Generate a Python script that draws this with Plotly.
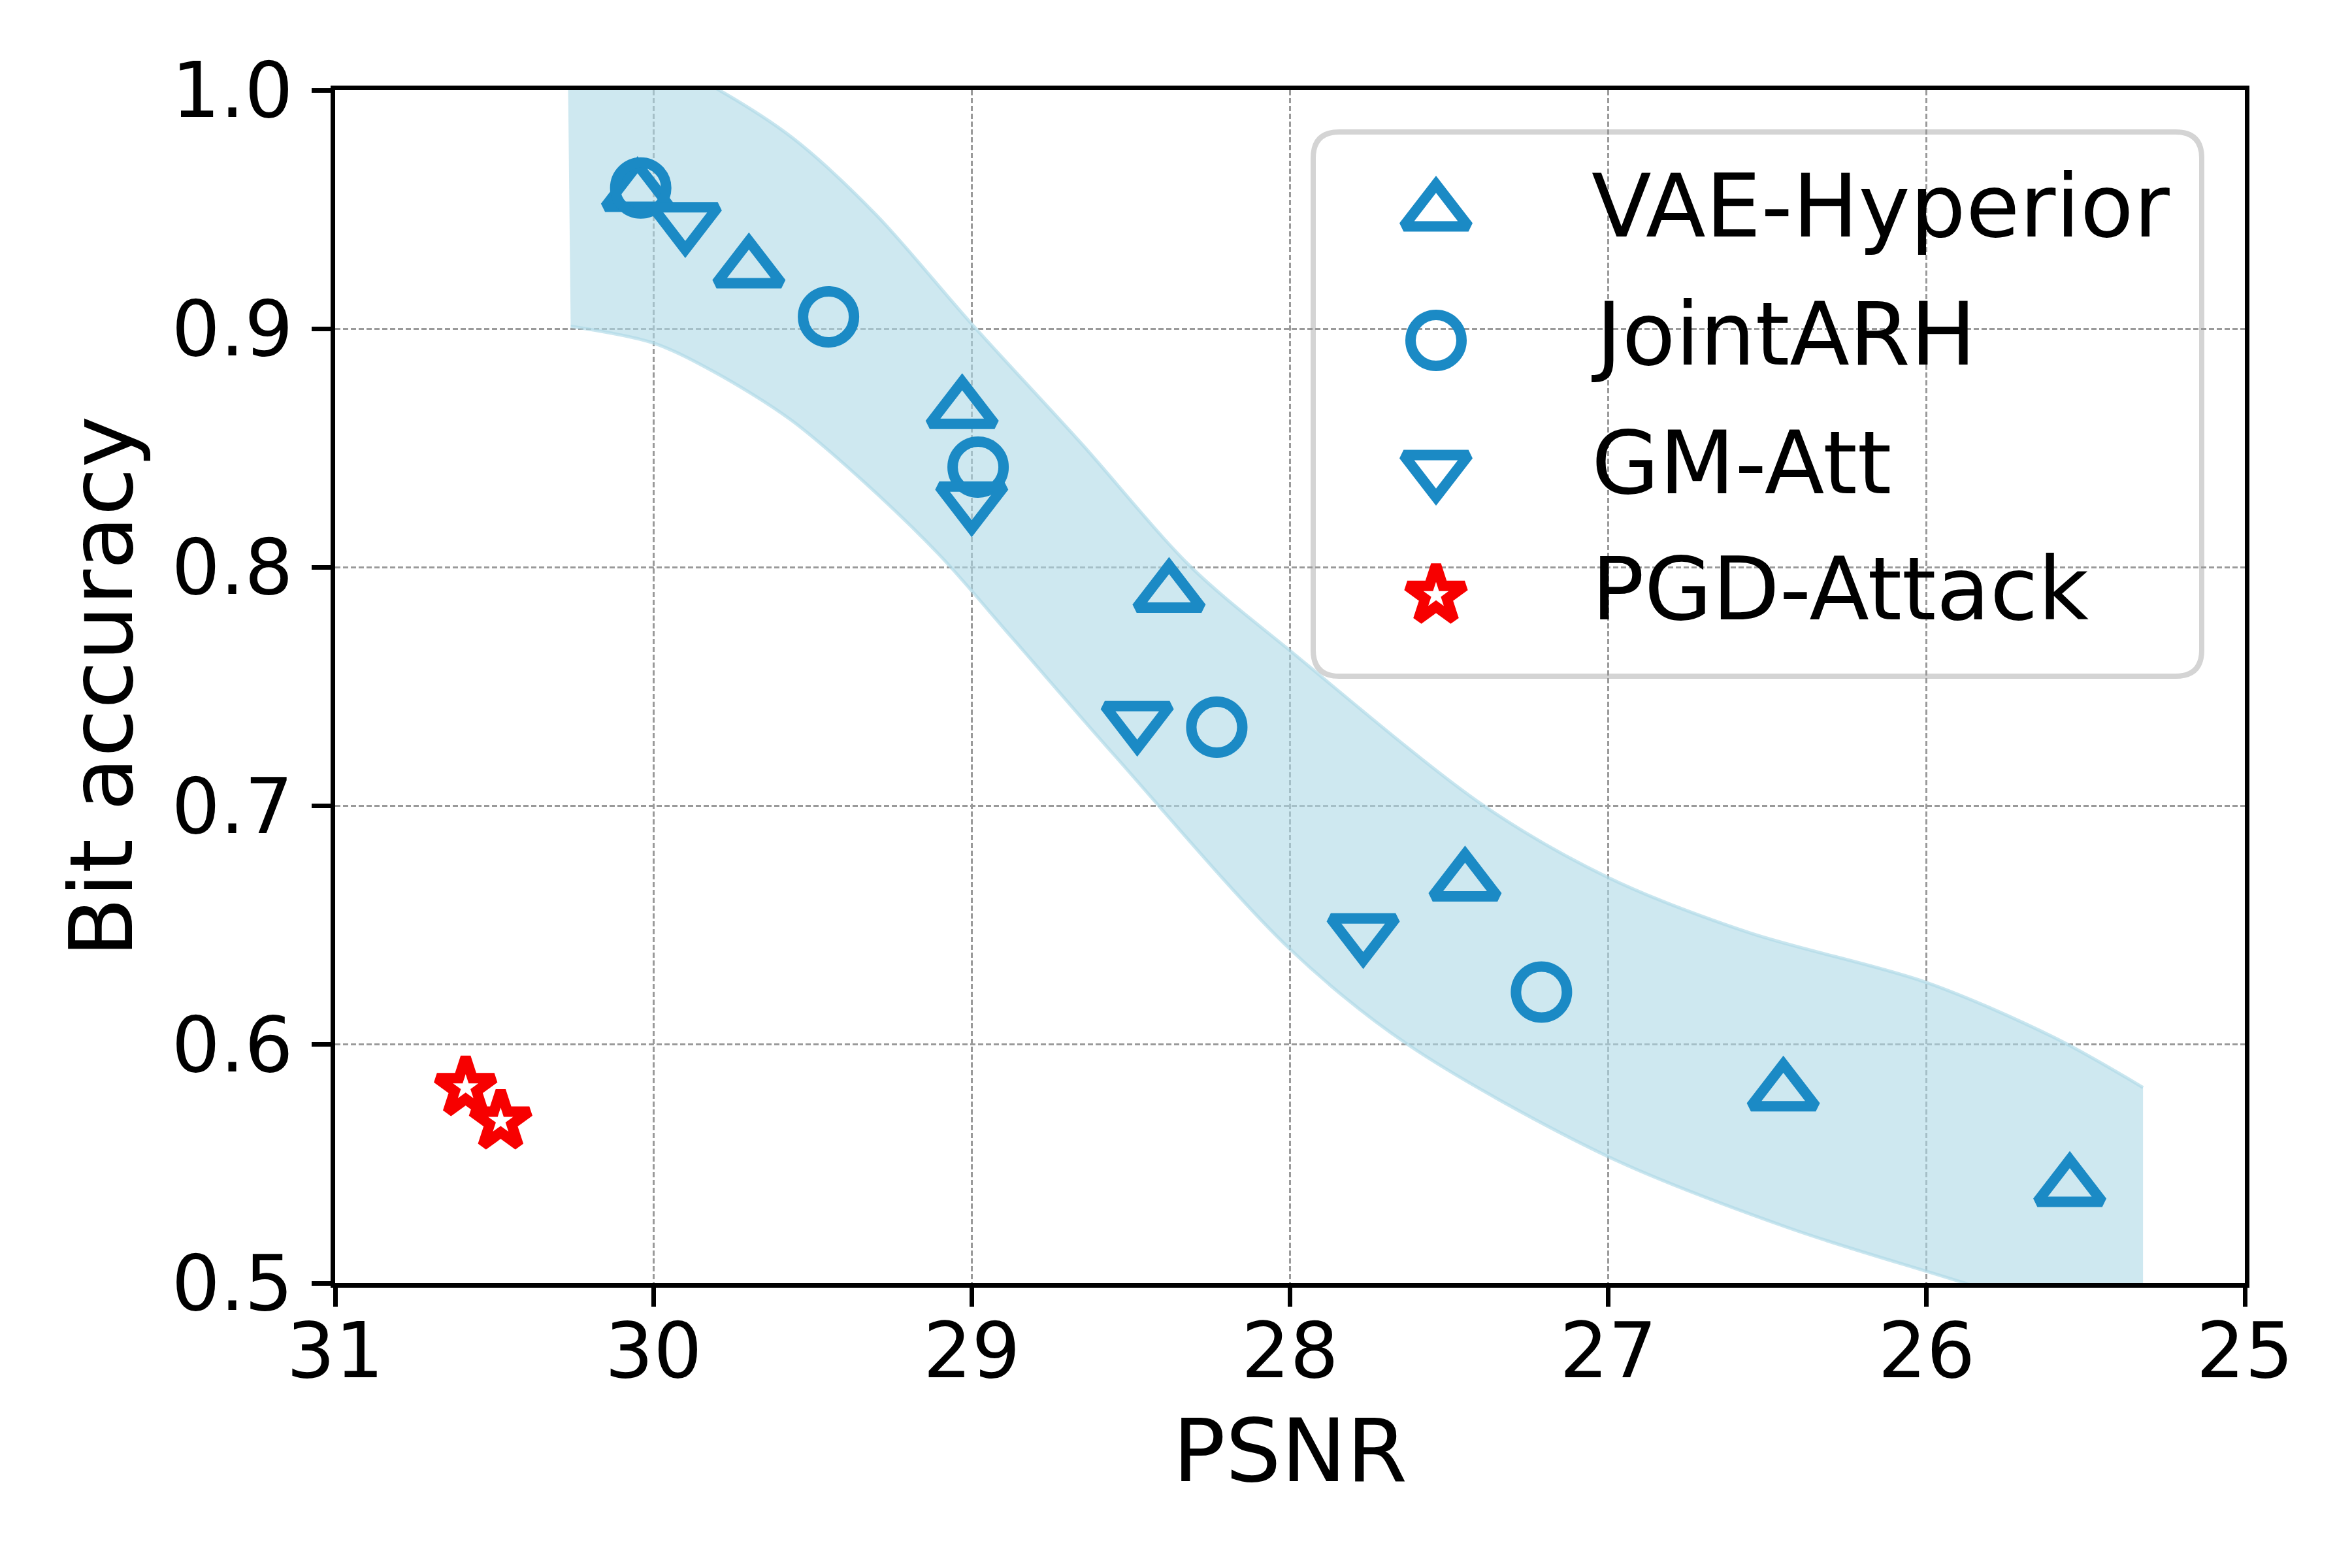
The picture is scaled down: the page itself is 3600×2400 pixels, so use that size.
import plotly.graph_objects as go

# PSNR vs bit accuracy per method
vae_psnr = [30.05, 29.70, 29.03, 28.38, 27.45, 26.45, 25.55]
vae_acc = [0.957, 0.925, 0.866, 0.789, 0.668, 0.580, 0.540]

joint_psnr = [30.04, 29.45, 28.98, 28.23, 27.21]
joint_acc = [0.959, 0.905, 0.842, 0.733, 0.622]

gm_psnr = [29.90, 29.00, 28.48, 27.77]
gm_acc = [0.945, 0.828, 0.736, 0.647]

pgd_psnr = [30.59, 30.48]
pgd_acc = [0.582, 0.568]

# shaded band (upper / lower edge)
band_up_x = [30.27, 30.00, 29.793, 29.563, 29.302, 29.00, 28.656, 28.31, 27.99, 27.39, 27.00,
             26.56, 26.00, 25.60, 25.32]
band_up_y = [1.024, 1.014, 1.000, 0.980, 0.948, 0.902, 0.852, 0.800, 0.764, 0.700, 0.670,
             0.647, 0.626, 0.603, 0.582]
band_lo_x = [30.26, 30.00, 29.81, 29.57, 29.34, 29.10, 28.87, 28.55, 28.00, 27.63, 27.00,
             26.43, 25.88, 25.32]
band_lo_y = [0.901, 0.894, 0.882, 0.862, 0.836, 0.805, 0.770, 0.721, 0.640, 0.600, 0.553,
             0.523, 0.500, 0.476]

x_ticks = [31, 30, 29, 28, 27, 26, 25]
y_ticks = [0.5, 0.6, 0.7, 0.8, 0.9, 1.0]

names = ["VAE-Hyperior", "JointARH", "GM-Att", "PGD-Attack"]

BLUE = "#1b8ac5"
RED = "#f70000"
FONT = "DejaVu Sans"

W, H = 3600, 2400
L, R, T, B = 505, 172, 130, 444

fig = go.Figure()

band_line = dict(color="rgba(173,216,230,0.65)", width=5, shape="spline", smoothing=0.9)
fig.add_trace(go.Scatter(x=band_lo_x, y=band_lo_y, mode="lines", line=band_line,
                         showlegend=False, hoverinfo="skip"))
fig.add_trace(go.Scatter(x=band_up_x, y=band_up_y, mode="lines", line=band_line,
                         fill="tonexty", fillcolor="rgba(173,216,230,0.6)",
                         showlegend=False, hoverinfo="skip"))

styles = [
    ("triangle-up-open", 86, BLUE),
    ("circle-open", 78, BLUE),
    ("triangle-down-open", 86, BLUE),
    ("star-open", 66, RED),
]
series = [(vae_psnr, vae_acc), (joint_psnr, joint_acc), (gm_psnr, gm_acc), (pgd_psnr, pgd_acc)]

for (xs, ys), (sym, size, col), name in zip(series, styles, names):
    fig.add_trace(go.Scatter(x=xs, y=ys, mode="markers", name=name, showlegend=False,
                             marker=dict(symbol=sym, size=size, color=col,
                                         line=dict(color=col, width=16)),
                             cliponaxis=False))

# hand-made legend (matplotlib style) on an overlay axis
pw = W - L - R
ph = H - T - B
leg_mx = (2190 - L) / pw
leg_rows = [(H - B - py) / ph for py in (317, 513, 710, 903)]
leg_tx = (2426 - L) / pw

for (sym, size, col), name, ly in zip(styles, names, leg_rows):
    fig.add_trace(go.Scatter(x=[leg_mx], y=[ly], xaxis="x2", yaxis="y2", mode="markers",
                             showlegend=False, hoverinfo="skip", cliponaxis=False,
                             marker=dict(symbol=sym, size=size, color=col,
                                         line=dict(color=col, width=16))))
    fig.add_annotation(x=leg_tx, y=ly + 0.005, xref="paper", yref="paper", text=name,
                       showarrow=False, xanchor="left", yanchor="middle",
                       font=dict(family=FONT, size=134, color="black"))

x0, x1 = (2002 - L) / pw, (3362 - L) / pw
y0, y1 = (H - B - 1027) / ph, (H - B - 194) / ph
rx, ry = 40 / pw, 40 / ph
path = (f"M{x0 + rx},{y0} L{x1 - rx},{y0} Q{x1},{y0} {x1},{y0 + ry} "
        f"L{x1},{y1 - ry} Q{x1},{y1} {x1 - rx},{y1} "
        f"L{x0 + rx},{y1} Q{x0},{y1} {x0},{y1 - ry} "
        f"L{x0},{y0 + ry} Q{x0},{y0} {x0 + rx},{y0} Z")
fig.add_shape(type="path", path=path, xref="paper", yref="paper", layer="between",
              fillcolor="rgba(255,255,255,0.8)", line=dict(color="#d4d4d4", width=8))

axis_common = dict(
    showline=True, linecolor="black", linewidth=7, mirror=True,
    ticks="outside", ticklen=29, tickwidth=7, tickcolor="black",
    showgrid=True, gridcolor="#9a9a9a", gridwidth=3, griddash="8px,4px",
    zeroline=False, tickfont=dict(family=FONT, size=117, color="black"),
)

fig.update_layout(
    width=W, height=H,
    margin=dict(l=L, r=R, t=T, b=B),
    paper_bgcolor="white", plot_bgcolor="white",
    font=dict(family=FONT, color="black"),
    showlegend=False,
    xaxis=dict(range=[31, 25], tickvals=x_ticks, ticktext=[str(v) for v in x_ticks],
               ticklabelstandoff=-32,
               title=dict(text="PSNR", font=dict(family=FONT, size=134), standoff=40),
               **axis_common),
    yaxis=dict(range=[0.5, 1.0], tickvals=y_ticks, ticktext=[f"{v:.1f}" for v in y_ticks],
               ticklabelstandoff=5,
               title=dict(text="Bit accuracy", font=dict(family=FONT, size=134), standoff=17),
               **axis_common),
    xaxis2=dict(range=[0, 1], overlaying="x", anchor="y2", visible=False),
    yaxis2=dict(range=[0, 1], overlaying="y", anchor="x2", visible=False),
)

fig.write_html("out.html")
